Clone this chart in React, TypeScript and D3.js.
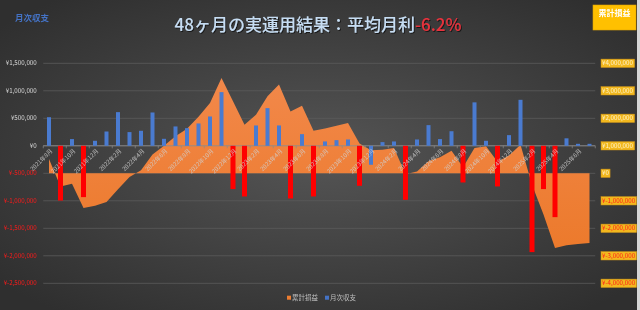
import React from "react";
import * as d3 from "d3";

const months = [
  "2021年8月", "2021年9月", "2021年10月", "2021年11月", "2021年12月", "2022年1月",
  "2022年2月", "2022年3月", "2022年4月", "2022年5月", "2022年6月", "2022年7月",
  "2022年8月", "2022年9月", "2022年10月", "2022年11月", "2022年12月", "2023年1月",
  "2023年2月", "2023年3月", "2023年4月", "2023年5月", "2023年6月", "2023年7月",
  "2023年8月", "2023年9月", "2023年10月", "2023年11月", "2023年12月", "2024年1月",
  "2024年2月", "2024年3月", "2024年4月", "2024年5月", "2024年6月", "2024年7月",
  "2024年8月", "2024年9月", "2024年10月", "2024年11月", "2024年12月", "2025年1月",
  "2025年2月", "2025年3月", "2025年4月", "2025年5月", "2025年6月", "2025年7月",
];

// 月次収支 (monthly P/L, yen)
const monthly = [
  520000, -995000, 122000, -933000, 91000, 260000, 612000, 249000, 273000, 606000, 127000, 352000,
  321000, 406000, 533000, 976000, -787000, -921000, 370000, 685000, 370000, -958000, 212000, -921000,
  79000, 103000, 115000, -727000, -345000, 67000, 79000, -982000, 115000, 376000, 122000, 265000,
  -667000, 790000, 91000, -739000, 194000, 836000, -1933000, -787000, -1297000, 136000, 36000, 36000,
];

// months whose loss is highlighted in red
const redMonths = [1, 3, 16, 17, 21, 23, 27, 31, 36, 39, 42, 43, 44];

// 累計損益 (cumulative P/L, yen)
const cumulative = [
  520000, -480000, -380000, -1260000, -1180000, -1040000, -580000, -130000, 110000, 680000, 1000000, 1350000,
  1620000, 2060000, 2560000, 3470000, 2620000, 1770000, 2130000, 2800000, 3230000, 2250000, 2460000, 1550000,
  1630000, 1730000, 1830000, 1080000, 840000, 860000, 920000, -30000, 70000, 440000, 580000, 820000,
  220000, 920000, 980000, 420000, 650000, 1040000, -420000, -1500000, -2720000, -2620000, -2570000, -2530000,
];

const leftTicks = [1500000, 1000000, 500000, 0, -500000, -1000000, -1500000, -2000000, -2500000];
const rightTicks = [4000000, 3000000, 2000000, 1000000, 0, -1000000, -2000000, -3000000, -4000000];

const W = 640;
const H = 310;
const FONT = "'Noto Sans CJK JP', 'Noto Sans', sans-serif";

const yen = (v: number) => "¥" + (v < 0 ? "-" : "") + d3.format(",")(Math.abs(v));
const textW = (s: string, fs: number) =>
  s.split("").reduce((a, c) => a + (c === "," ? 0.27 : c === "-" ? 0.33 : 0.57) * fs, 0);

export default function App() {
  const x = d3
    .scaleBand<number>()
    .domain(d3.range(months.length))
    .range([43.25, 595.25])
    .padding(0);
  const yL = d3.scaleLinear().domain([-2500000, 1500000]).range([283.3, 63.3]);
  const yR = d3.scaleLinear().domain([-4000000, 4000000]).range([283.3, 63.3]);
  const cx = (i: number) => (x(i) as number) + x.bandwidth() / 2;

  const areaPath = d3
    .area<number>()
    .x((_, i) => cx(i))
    .y0(yR(0))
    .y1((d) => yR(d))(cumulative) as string;

  const blueW = 4;
  const redW = 5;

  return (
    <svg
      width={W}
      height={H}
      style={{ position: "fixed", left: 0, top: 0, display: "block" }}
      fontFamily={FONT}
    >
      <defs>
        <radialGradient id="bg" cx="50%" cy="50%" r="65%">
          <stop offset="0%" stopColor="#555555" />
          <stop offset="100%" stopColor="#2f2f2f" />
        </radialGradient>
        <linearGradient id="areaFill" x1="0" y1="0" x2="0" y2="1">
          <stop offset="0%" stopColor="#f2884a" />
          <stop offset="100%" stopColor="#ec7a2c" />
        </linearGradient>
        <filter id="tshadow" x="-10%" y="-30%" width="120%" height="160%">
          <feDropShadow dx="1" dy="1" stdDeviation="0.6" floodColor="#000" floodOpacity="0.6" />
        </filter>
      </defs>
      <rect x={0} y={0} width={W} height={H} fill="url(#bg)" />
      <rect x={637} y={0} width={3} height={H} fill="#d6d6d6" />

      {/* gridlines */}
      {leftTicks.map((t) => (
        <line
          key={"g" + t}
          x1={43.25}
          x2={595.25}
          y1={yL(t)}
          y2={yL(t)}
          stroke="#5c5c5c"
          strokeWidth={0.8}
        />
      ))}

      {/* cumulative area (secondary axis) */}
      <path d={areaPath} fill="url(#areaFill)" />

      {/* axis line at primary zero */}
      <line x1={43.25} x2={595.25} y1={yL(0)} y2={yL(0)} stroke="#8c8c8c" strokeWidth={0.9} />
      {d3.range(0, months.length + 1, 2).map((i) => {
        const xx = i < months.length ? (x(i) as number) : 595.25;
        return (
          <line key={"tk" + i} x1={xx} x2={xx} y1={yL(0)} y2={yL(0) + 2.5} stroke="#8c8c8c" strokeWidth={0.7} />
        );
      })}

      {/* monthly bars */}
      {monthly.map((v, i) => {
        const red = redMonths.includes(i);
        const w = red ? redW : blueW;
        const y0 = yL(0);
        const y1 = yL(v);
        return (
          <rect
            key={"b" + i}
            x={cx(i) - w / 2}
            y={Math.min(y0, y1)}
            width={w}
            height={Math.abs(y1 - y0)}
            fill={red ? "#ff0000" : "#4a7bd0"}
          />
        );
      })}

      {/* x axis labels */}
      {months.map((m, i) =>
        i % 2 === 0 ? (
          <text
            key={"xl" + i}
            transform={`translate(${cx(i) + 2.5},${yL(0) + 4}) rotate(-45)`}
            textAnchor="end"
            dy="0.35em"
            fontSize={6}
            fill="#d0d0d0"
            fillOpacity={0.85}
          >
            {m}
          </text>
        ) : null
      )}

      {/* left axis labels */}
      {leftTicks.map((t) => (
        <text
          key={"ll" + t}
          x={36.7}
          y={yL(t)}
          dy="0.35em"
          textAnchor="end"
          fontSize={6.2}
          fill={t < 0 ? "#ff1a1a" : "#d9d9d9"}
        >
          {yen(t)}
        </text>
      ))}

      {/* right axis labels with gold boxes */}
      {rightTicks.map((t) => {
        const s = yen(t);
        const tw = textW(s, 6.2);
        return (
          <g key={"rl" + t}>
            <rect
              x={601}
              y={yR(t) - 4.2}
              width={tw + 2}
              height={8.4}
              fill="#f2b81e"
              stroke="#c9901a"
              strokeWidth={0.5}
            />
            <text
              x={602}
              y={yR(t)}
              dy="0.35em"
              fontSize={6.2}
              fill={t < 0 ? "#ff1a1a" : "#fff2c8"}
            >
              {s}
            </text>
          </g>
        );
      })}

      {/* top-left series label */}
      <text x={15} y={18} dy="0.35em" fontSize={8.5} fontWeight="bold" fill="#4472c4">
        月次収支
      </text>

      {/* title */}
      <text
        x={318}
        y={25}
        dy="0.35em"
        textAnchor="middle"
        fontSize={17}
        fontWeight={500}
        filter="url(#tshadow)"
      >
        <tspan fill="#c6ddf3">48ヶ月の実運用結果：平均月利</tspan>
        <tspan fill="#e8323c">-6.2%</tspan>
      </text>

      {/* top-right box */}
      <rect x={593} y={5} width={43} height={25} fill="#ffc000" stroke="#e0a400" strokeWidth={0.6} />
      <text
        x={614.5}
        y={13.5}
        dy="0.35em"
        textAnchor="middle"
        fontSize={8}
        fontWeight="bold"
        fill="#ffffff"
      >
        累計損益
      </text>

      {/* legend */}
      <rect x={287} y={295.7} width={4} height={4} fill="#ed7d31" />
      <text x={292} y={297.7} dy="0.35em" fontSize={6.5} fill="#bfbfbf">
        累計損益
      </text>
      <rect x={325} y={295.7} width={4} height={4} fill="#4472c4" />
      <text x={330} y={297.7} dy="0.35em" fontSize={6.5} fill="#bfbfbf">
        月次収支
      </text>
    </svg>
  );
}
